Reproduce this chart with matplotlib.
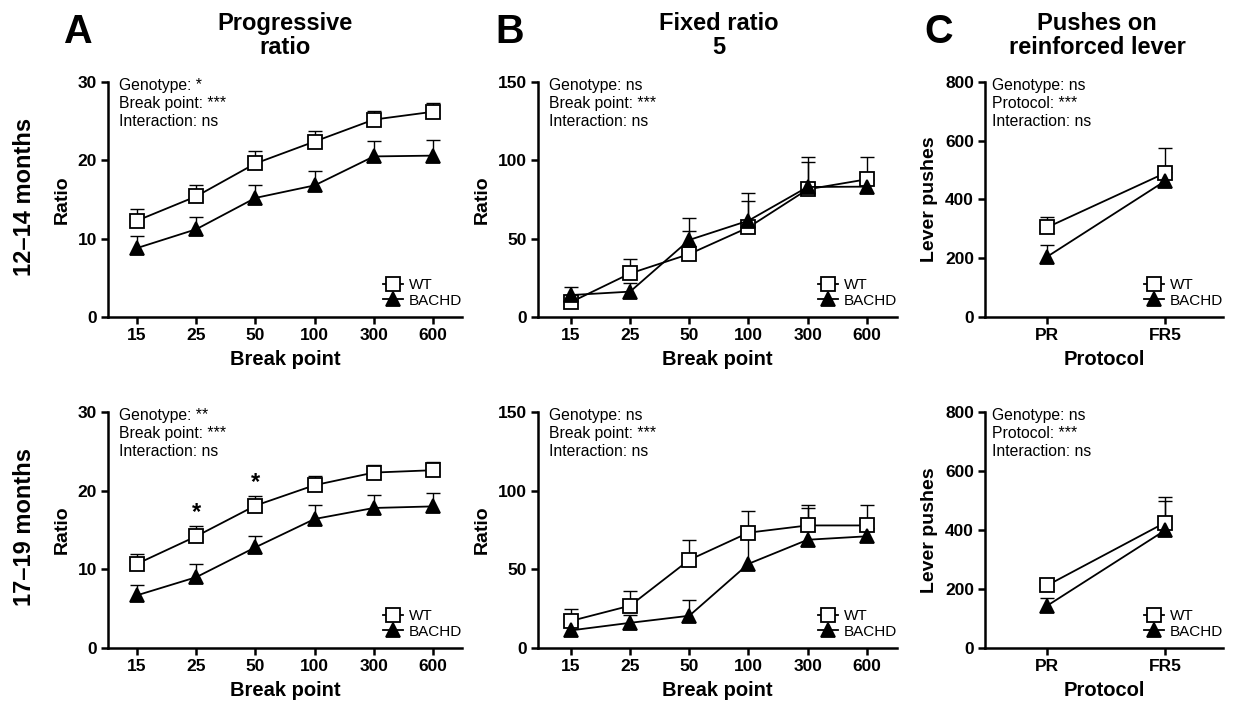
import matplotlib
matplotlib.use("Agg")
import matplotlib.pyplot as plt
import numpy as np

plt.rcParams['font.family'] = ['Liberation Sans', 'DejaVu Sans']

# ---- data ----
break_points = ["15", "25", "50", "100", "300", "600"]
protocols = ["PR", "FR5"]

# Progressive ratio, 12-14 months
pr_young_wt = [12.3, 15.4, 19.6, 22.4, 25.2, 26.2]
pr_young_wt_sem = [1.5, 1.5, 1.6, 1.3, 1.1, 1.1]
pr_young_bachd = [8.8, 11.2, 15.2, 16.8, 20.5, 20.6]
pr_young_bachd_sem = [1.5, 1.6, 1.6, 1.8, 2.0, 2.0]

# Progressive ratio, 17-19 months
pr_old_wt = [10.7, 14.2, 18.1, 20.7, 22.3, 22.6]
pr_old_wt_sem = [1.2, 1.3, 1.2, 1.2, 1.0, 1.0]
pr_old_bachd = [6.7, 9.0, 12.8, 16.4, 17.8, 18.0]
pr_old_bachd_sem = [1.35, 1.7, 1.5, 1.8, 1.6, 1.65]

# Fixed ratio 5, 12-14 months
fr_young_wt = [9.5, 27.8, 40.2, 57.2, 81.5, 87.9]
fr_young_wt_sem = [4.0, 9.0, 15.0, 17.0, 17.7, 14.4]
fr_young_bachd = [14.0, 16.2, 49.2, 61.5, 83.0, 83.2]
fr_young_bachd_sem = [5.0, 5.3, 13.8, 17.7, 19.3, 4.0]

# Fixed ratio 5, 17-19 months
fr_old_wt = [17.2, 26.9, 56.0, 73.3, 77.9, 77.9]
fr_old_wt_sem = [7.6, 9.5, 12.6, 14.0, 13.2, 13.2]
fr_old_bachd = [11.2, 16.0, 20.5, 53.5, 68.8, 71.0]
fr_old_bachd_sem = [5.0, 5.0, 9.8, 19.0, 20.2, 5.0]

# Pushes on reinforced lever
lever_young_wt = [305, 490]
lever_young_wt_sem = [34, 87]
lever_young_bachd = [205, 463]
lever_young_bachd_sem = [40, 30]
lever_old_wt = [212, 425]
lever_old_wt_sem = [15, 87]
lever_old_bachd = [143, 399]
lever_old_bachd_sem = [25, 99]

stats_pr_young = "Genotype: *\nBreak point: ***\nInteraction: ns"
stats_pr_old = "Genotype: **\nBreak point: ***\nInteraction: ns"
stats_fr = "Genotype: ns\nBreak point: ***\nInteraction: ns"
stats_lever = "Genotype: ns\nProtocol: ***\nInteraction: ns"

# ---- figure ----
W, H = 1235, 704
fig = plt.figure(figsize=(W / 100, H / 100), dpi=100)


def add_axes(left, right, top, bottom):
    return fig.add_axes([left / W, 1 - bottom / H, (right - left) / W, (bottom - top) / H])


def draw_group(ax, mean, sem, marker, face, label):
    x = np.arange(len(mean))
    mean = np.asarray(mean, float)
    upper = mean + np.asarray(sem, float)
    ax.vlines(x, mean, upper, color='black', lw=1.0, zorder=2)
    ax.plot(x, upper, ls='none', marker='_', ms=10, mew=1.0, color='black', zorder=2)
    line, = ax.plot(x, mean, color='black', lw=1.3, marker=marker, ms=9.5,
                    mfc=face, mec='black', mew=1.3, zorder=3, label=label)
    return line


def style_axes(ax, ticks, xlim, yticks, xlabel, ylabel, handles):
    ax.set_xlim(*xlim)
    ax.set_ylim(yticks[0], yticks[-1])
    ax.set_xticks(range(len(ticks)))
    ax.set_xticklabels(ticks)
    ax.set_yticks(yticks)
    for s in ['top', 'right']:
        ax.spines[s].set_visible(False)
    for s in ['left', 'bottom']:
        ax.spines[s].set_linewidth(1.8)
    ax.tick_params(width=1.8, length=5, labelsize=12.5, pad=3)
    for lab in ax.get_xticklabels() + ax.get_yticklabels():
        lab.set_fontweight('bold')
    ax.set_xlabel(xlabel, fontsize=14.5, fontweight='bold', labelpad=5)
    ax.set_ylabel(ylabel, fontsize=14, fontweight='bold', labelpad=5)
    ax.legend(handles, ['WT', 'BACHD'], loc='lower right', bbox_to_anchor=(1.0, 0.04),
              frameon=False, fontsize=11, handlelength=1.3, handletextpad=0.4,
              labelspacing=0.1, borderpad=0, borderaxespad=0)


def stats_text(ax, txt):
    ax.text(0.031, 1.016, txt, transform=ax.transAxes, ha='left', va='top',
            fontsize=11.3, linespacing=1.25)


rows = [(82, 317), (412, 648)]
cols = {'A': (108, 462), 'B': (538, 897), 'C': (985, 1223)}

pr_sets = [(pr_young_wt, pr_young_wt_sem, pr_young_bachd, pr_young_bachd_sem, stats_pr_young),
           (pr_old_wt, pr_old_wt_sem, pr_old_bachd, pr_old_bachd_sem, stats_pr_old)]
fr_sets = [(fr_young_wt, fr_young_wt_sem, fr_young_bachd, fr_young_bachd_sem, stats_fr),
           (fr_old_wt, fr_old_wt_sem, fr_old_bachd, fr_old_bachd_sem, stats_fr)]
lever_sets = [(lever_young_wt, lever_young_wt_sem, lever_young_bachd, lever_young_bachd_sem, stats_lever),
              (lever_old_wt, lever_old_wt_sem, lever_old_bachd, lever_old_bachd_sem, stats_lever)]

axes_pr = []
for i, (top, bottom) in enumerate(rows):
    # Progressive ratio
    ax = add_axes(cols['A'][0], cols['A'][1], top, bottom)
    wt, wts, bd, bds, st = pr_sets[i]
    h_bd = draw_group(ax, bd, bds, '^', 'black', 'BACHD')
    h_wt = draw_group(ax, wt, wts, 's', 'white', 'WT')
    style_axes(ax, break_points, (-0.49, 5.49), [0, 10, 20, 30], 'Break point', 'Ratio',
               [h_wt, h_bd])
    stats_text(ax, st)
    axes_pr.append(ax)

    # Fixed ratio 5
    ax = add_axes(cols['B'][0], cols['B'][1], top, bottom)
    wt, wts, bd, bds, st = fr_sets[i]
    h_wt = draw_group(ax, wt, wts, 's', 'white', 'WT')
    h_bd = draw_group(ax, bd, bds, '^', 'black', 'BACHD')
    style_axes(ax, break_points, (-0.557, 5.51), [0, 50, 100, 150], 'Break point', 'Ratio',
               [h_wt, h_bd])
    stats_text(ax, st)

    # Lever pushes
    ax = add_axes(cols['C'][0], cols['C'][1], top, bottom)
    wt, wts, bd, bds, st = lever_sets[i]
    h_wt = draw_group(ax, wt, wts, 's', 'white', 'WT')
    h_bd = draw_group(ax, bd, bds, '^', 'black', 'BACHD')
    style_axes(ax, protocols, (-0.525, 1.49), [0, 200, 400, 600, 800], 'Protocol', 'Lever pushes',
               [h_wt, h_bd])
    stats_text(ax, st)

# significance marks on the older progressive-ratio panel
sig_idx = [1, 2]
ax = axes_pr[1]
for k in sig_idx:
    ax.text(k, pr_old_wt[k] + pr_old_wt_sem[k] + 0.3, '*', ha='center', va='bottom',
            fontsize=17, fontweight='bold')

# column titles
titles = [("Progressive\nratio", 285), ("Fixed ratio\n5", 719),
          ("Pushes on\nreinforced lever", 1097)]
for txt, xc in titles:
    fig.text(xc / W, 1 - 12 / H, txt, ha='center', va='top',
             fontsize=17, fontweight='bold', linespacing=1.07)

# panel letters
for letter, xc in [('A', 77), ('B', 510), ('C', 939)]:
    fig.text(xc / W, 1 - 43 / H, letter, ha='center', va='baseline',
             fontsize=28.5, fontweight='bold')

# row labels
fig.text(25 / W, 1 - 197 / H, "12–14 months", rotation=90, ha='center', va='center',
         fontsize=17, fontweight='bold')
fig.text(25 / W, 1 - 527 / H, "17–19 months", rotation=90, ha='center', va='center',
         fontsize=17, fontweight='bold')

fig.savefig("out.png", dpi=100)
